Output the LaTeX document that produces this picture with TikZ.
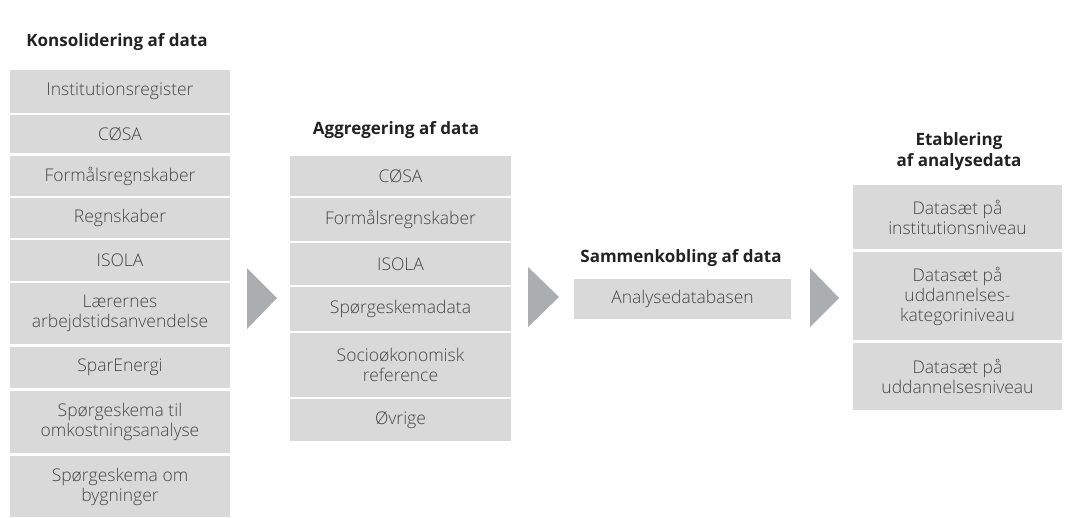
\documentclass[tikz,border=0pt]{standalone}
\usepackage{fontspec}
\IfFontExistsTF{Open Sans Light}{\setmainfont{Open Sans Light}}{\setmainfont{Open Sans}}
\newfontfamily\headfont{Open Sans}
\definecolor{boxgray}{HTML}{D9D9D9}
\definecolor{txtgray}{HTML}{444444}
\definecolor{arrgray}{HTML}{ABAEB0}
\definecolor{headcol}{HTML}{222222}
\begin{document}
\begin{tikzpicture}[x=1pt,y=-1pt,
  cell/.style={fill=boxgray, inner sep=0pt, align=center, text=txtgray,
    font=\fontsize{17.5}{20}\selectfont},
  c1/.style={cell, minimum width=220pt},
  c2/.style={cell, minimum width=221pt},
  c3/.style={cell, minimum width=217pt},
  c4/.style={cell, minimum width=209pt},
  head/.style={inner sep=0pt, align=center, text=headcol,
    font=\headfont\bfseries\fontsize{17}{21}\selectfont},
  flowarrow/.style={fill=arrgray}]
\useasboundingbox (0,0) rectangle (1065,517);
% column 1
\node[head] (h1) at (117,42) {Konsolidering af data};
\node[c1, minimum height=43pt] (a1) at (120,91.5) {Institutionsregister};
\node[c1, minimum height=38pt] (a2) at (120,134) {CØSA};
\node[c1, minimum height=40pt] (a3) at (120,176) {Formålsregnskaber};
\node[c1, minimum height=40pt] (a4) at (120,218) {Regnskaber};
\node[c1, minimum height=41pt] (a5) at (120,260.5) {ISOLA};
\node[c1, minimum height=61pt] (a6) at (120,313.5) {Lærernes\\arbejdstidsanvendelse};
\node[c1, minimum height=41pt] (a7) at (120,367.5) {SparEnergi};
\node[c1, minimum height=62pt] (a8) at (120,422) {Spørgeskema til\\omkostningsanalyse};
\node[c1, minimum height=61pt] (a9) at (120,486.5) {Spørgeskema om\\bygninger};
% column 2
\node[head] (h2) at (396,130) {Aggregering af data};
\node[c2, minimum height=40pt] (b1) at (400.5,176) {CØSA};
\node[c2, minimum height=43pt] (b2) at (400.5,219.5) {Formålsregnskaber};
\node[c2, minimum height=42pt] (b3) at (400.5,264) {ISOLA};
\node[c2, minimum height=44pt] (b4) at (400.5,309) {Spørgeskemadata};
\node[c2, minimum height=64pt] (b5) at (400.5,365) {Socioøkonomisk\\reference};
\node[c2, minimum height=42pt] (b6) at (400.5,420) {Øvrige};
% column 3
\node[head] (h3) at (681,258) {Sammenkobling af data};
\node[c3, minimum height=40pt] (s1) at (682.5,299) {Analysedatabasen};
% column 4
\node[head] (h4) at (959,152) {Etablering\\af analysedata};
\node[c4, minimum height=64pt] (d1) at (957.5,217) {Datasæt på\\institutionsniveau};
\node[c4, minimum height=88pt] (d2) at (957.5,296) {Datasæt på\\uddannelses-\\kategoriniveau};
\node[c4, minimum height=67pt] (d3) at (957.5,376.5) {Datasæt på\\uddannelsesniveau};
% arrows
\fill[flowarrow] (247,268) -- (277,298) -- (247,329) -- cycle;
\fill[flowarrow] (528,267) -- (559,297) -- (528,327) -- cycle;
\fill[flowarrow] (810,268) -- (839,298) -- (810,327) -- cycle;
\end{tikzpicture}
\end{document}
